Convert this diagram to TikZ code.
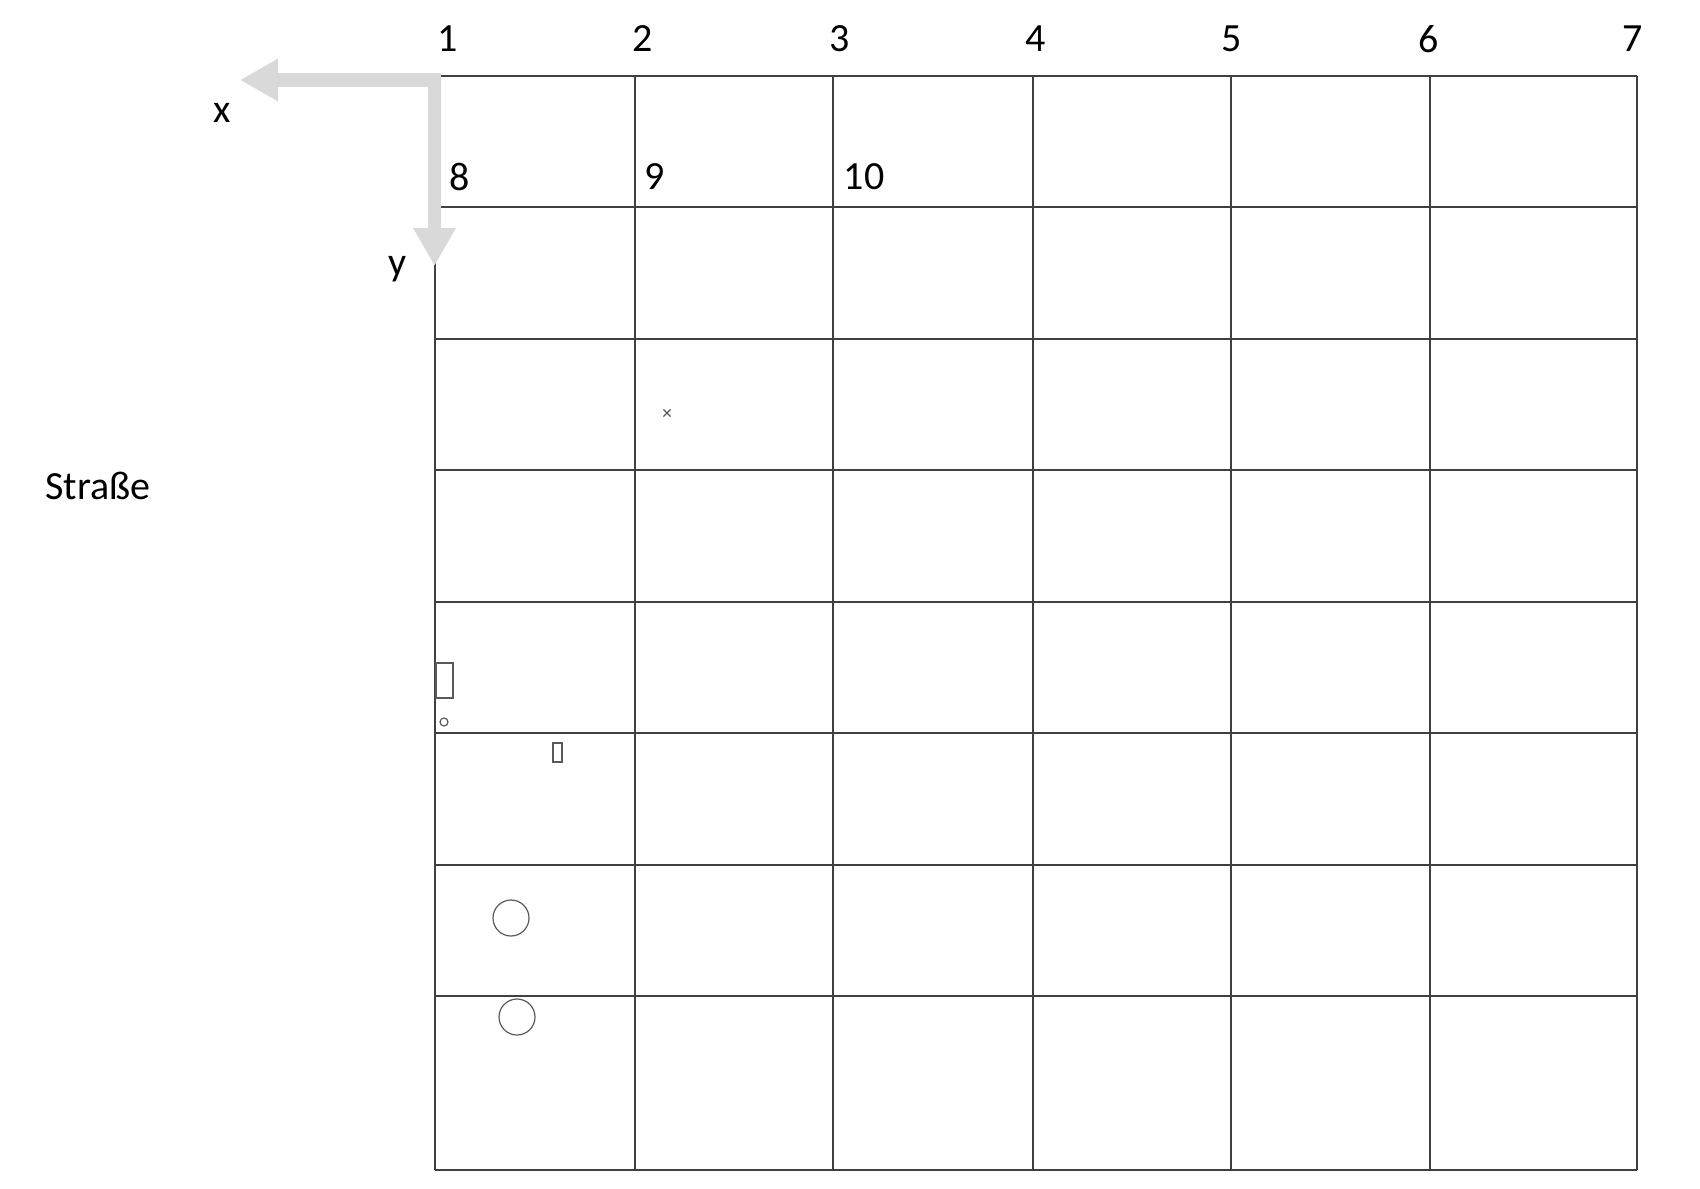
\documentclass[tikz,border=0pt]{standalone}
\usepackage{fontspec}
\setmainfont{Carlito}
\usetikzlibrary{arrows.meta}
\usetikzlibrary{positioning}
\usetikzlibrary{shapes.misc}
\tikzset{gridline/.style = {draw=black!75, line width=0.35pt}}
\tikzset{axis/.style = {draw=black!15, line width=3.4pt, line join=miter,
                        {Triangle[width=10pt,length=9.5pt]}-{Triangle[width=10pt,length=9.5pt]}}}
\tikzset{lbl/.style = {inner sep=0, font=\fontsize{10}{12}\selectfont}}
\tikzset{thing/.style = {draw=black!65, line width=0.3pt}}

\begin{document}
\begin{tikzpicture}[x=0.25pt, y=-0.25pt]
    \useasboundingbox (0,0) rectangle (1700,1188);

    % raster
    \foreach \x in {435,635,833,1033,1231,1430,1637}
      \draw [gridline] (\x,76) -- (\x,1170);
    \foreach \y in {76,207,339,470,602,733,865,996,1170}
      \draw [gridline] (435,\y) -- (1637,\y);

    % spaltennummern
    \node [lbl] (n1) at (448, 39) {1};
    \node [lbl] (n2) at (643, 39) {2};
    \node [lbl] (n3) at (840, 39) {3};
    \node [lbl] (n4) at (1036, 39) {4};
    \node [lbl] (n5) at (1232, 39) {5};
    \node [lbl] (n6) at (1429, 39) {6};
    \node [lbl] (n7) at (1633, 39) {7};
    \node [lbl] (n8) at (460, 177) {8};
    \node [lbl] (n9) at (655, 177) {9};
    \node [lbl] (n10) at (864, 177) {10};

    % achsen
    \coordinate (ursprung) at (434.5, 80);
    \coordinate (xspitze) at (240, 80);
    \coordinate (yspitze) at (434.5, 266);
    \draw [axis] (xspitze) -- (ursprung) -- (yspitze);
    \node [lbl] (xlabel) at (222, 113) {x};
    \node [lbl] (ylabel) at (398, 269) {y};

    \node [lbl] (strasse) at (98, 486) {Straße};

    % objekte
    \node [thing, cross out, inner sep=0, minimum size=1.5pt] (kreuz) at (667, 413) {};
    \draw [thing] (436, 663) rectangle (453, 698);
    \draw [thing] (444, 722) circle [radius=4];
    \draw [thing] (553, 743) rectangle (562, 762);
    \draw [thing] (511, 918) circle [radius=18];
    \draw [thing] (517, 1017) circle [radius=18];
  \end{tikzpicture}
\end{document}
